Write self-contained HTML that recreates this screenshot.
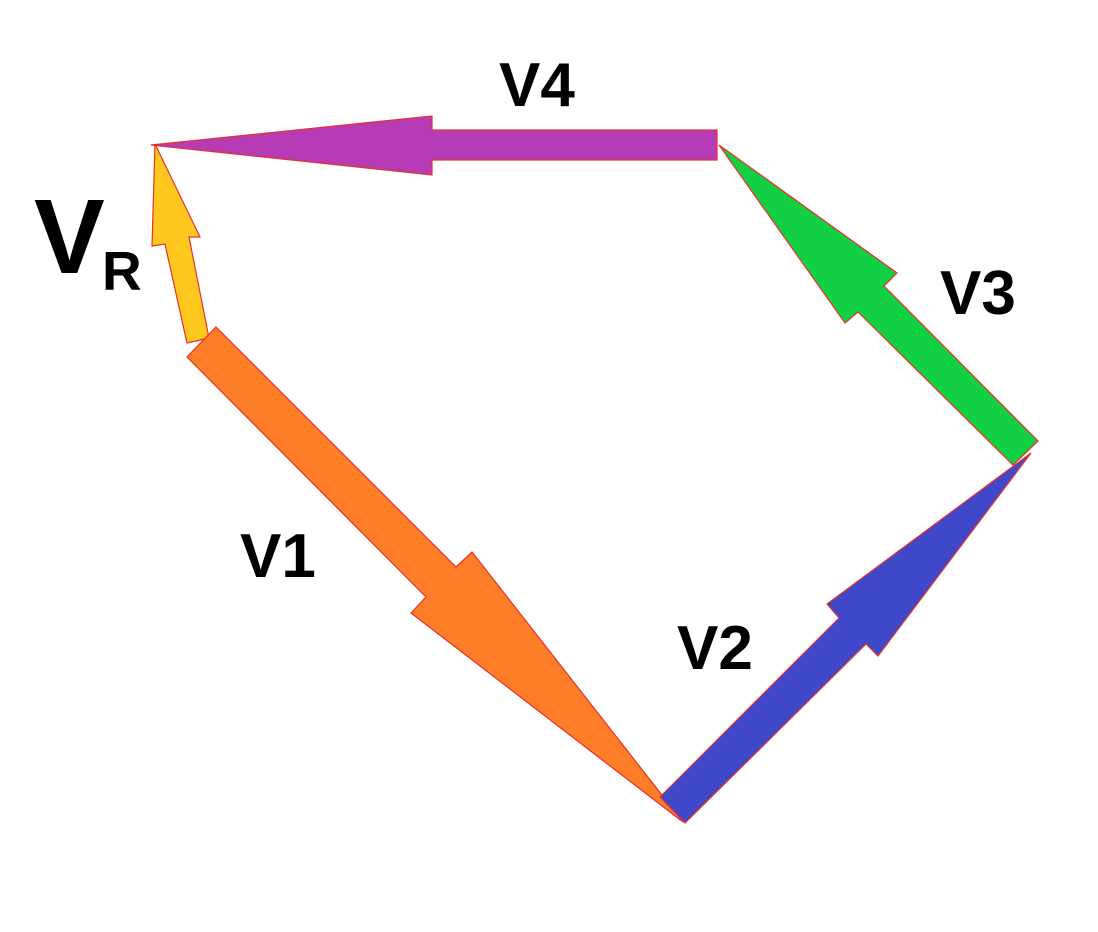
<!DOCTYPE html>
<html><head><style>
html,body{margin:0;padding:0;background:#fff;}
svg{display:block;}
text{font-family:"Liberation Sans",sans-serif;font-weight:bold;fill:#000;}
</style></head><body>
<svg width="1098" height="932" viewBox="0 0 1098 932" xmlns="http://www.w3.org/2000/svg">
<g stroke="#e8302a" stroke-width="1.2" stroke-linejoin="miter">
<polygon fill="#b53cb5" points="151,145 432,116 432,130 717,130 717,160 432,160 432,175"/>
<polygon fill="#ffc81e" points="155,144 200,237 189,237 209,338 187,343 165,244 152,246"/>
<polygon fill="#fe7d28" points="216,327 456,567 472,552 683,822 411,613 426,597 187,357"/>
<polygon fill="#3f48c9" points="1031,453 878,656 866,644 685,823 660,797 839,618 827,604"/>
<polygon fill="#11d044" points="719,145 897,273 884,286 1038,441 1013,465 858,312 845,323"/>
</g>
<text x="499" y="106" font-size="62">V4</text>
<text x="240" y="577" font-size="62">V1</text>
<text x="677" y="669" font-size="62">V2</text>
<text x="940" y="314" font-size="62">V3</text>
<text x="34" y="273" font-size="106">V</text>
<text x="102" y="290" font-size="55">R</text>
</svg>
</body></html>
